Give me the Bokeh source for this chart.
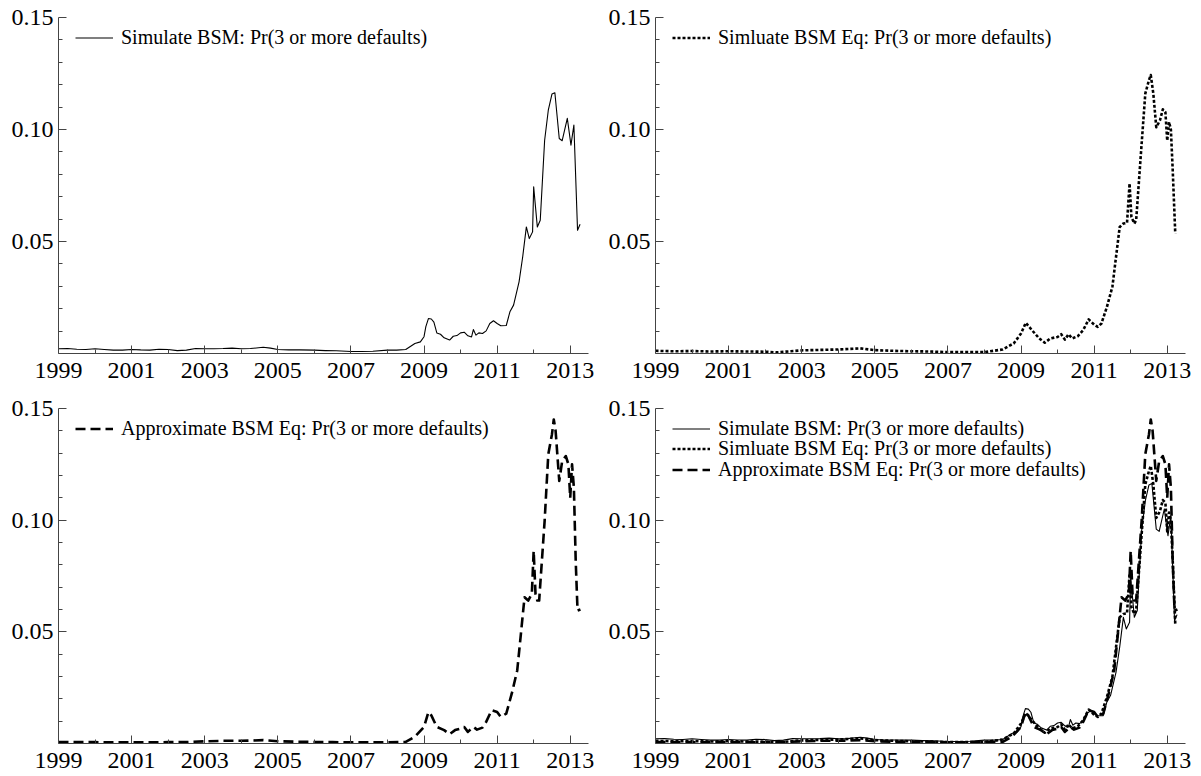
from bokeh.plotting import figure
from bokeh.layouts import column, row
from bokeh.models import Range1d, FixedTicker, PrintfTickFormatter, Legend, LegendItem
from bokeh.embed import file_html
from bokeh.resources import INLINE

# ---------------- data (decimal years, probability) ----------------
sim_dates = [1999.0, 1999.25, 1999.5, 1999.75, 2000.0, 2000.25, 2000.5, 2000.75,
             2001.0, 2001.25, 2001.5, 2001.75, 2002.0, 2002.25, 2002.5, 2002.75,
             2003.0, 2003.25, 2003.5, 2003.75, 2004.0, 2004.25, 2004.6, 2004.8,
             2005.0, 2005.3, 2005.6, 2006.0, 2006.3, 2006.6, 2007.0, 2007.3,
             2007.6, 2008.0, 2008.25, 2008.5, 2008.75, 2008.9, 2009.0, 2009.05,
             2009.12, 2009.2, 2009.27, 2009.35, 2009.45, 2009.55, 2009.7, 2009.8,
             2009.9, 2010.0, 2010.1, 2010.2, 2010.3, 2010.35, 2010.42, 2010.5,
             2010.6, 2010.7, 2010.8, 2010.9, 2011.0, 2011.1, 2011.25, 2011.35,
             2011.45, 2011.6, 2011.7, 2011.8, 2011.88, 2011.97, 2012.0, 2012.1,
             2012.18, 2012.3, 2012.4, 2012.5, 2012.58, 2012.7, 2012.78, 2012.92,
             2013.02, 2013.1, 2013.2, 2013.27]
sim_vals = [0.0021, 0.0022, 0.0019, 0.0018, 0.0021, 0.0018, 0.0015, 0.0015,
            0.0018, 0.0016, 0.0015, 0.0019, 0.0018, 0.0013, 0.0015, 0.0022,
            0.0021, 0.0021, 0.0022, 0.0024, 0.0021, 0.0022, 0.0028, 0.0024,
            0.0018, 0.0016, 0.0016, 0.0015, 0.0013, 0.0012, 0.0009, 0.0009,
            0.0010, 0.0015, 0.0015, 0.0018, 0.0045, 0.0052, 0.0075, 0.0120,
            0.0156, 0.0154, 0.0140, 0.0092, 0.0086, 0.0070, 0.0060, 0.0077,
            0.0080, 0.0092, 0.0095, 0.0079, 0.0074, 0.0107, 0.0082, 0.0092,
            0.0089, 0.0101, 0.0134, 0.0146, 0.0134, 0.0124, 0.0125, 0.0186,
            0.0216, 0.0320, 0.0432, 0.0565, 0.0513, 0.0543, 0.0744, 0.0565,
            0.0595, 0.0952, 0.1086, 0.1158, 0.1164, 0.0960, 0.0950, 0.1050,
            0.0930, 0.1020, 0.0550, 0.0577]

eq_dates = [1999.0, 1999.5, 2000.0, 2000.5, 2001.0, 2001.5, 2002.0, 2002.3,
            2002.7, 2003.0, 2003.5, 2004.0, 2004.6, 2005.0, 2005.5, 2006.0,
            2006.5, 2007.0, 2007.5, 2008.0, 2008.5, 2008.8, 2009.0, 2009.13,
            2009.3, 2009.5, 2009.65, 2009.8, 2010.0, 2010.1, 2010.2, 2010.3,
            2010.4, 2010.55, 2010.7, 2010.85, 2011.0, 2011.1, 2011.2, 2011.35,
            2011.5, 2011.6, 2011.7, 2011.8, 2011.9, 2011.97, 2012.02, 2012.1,
            2012.15, 2012.3, 2012.4, 2012.5, 2012.55, 2012.62, 2012.7, 2012.8,
            2012.88, 2012.95, 2013.0, 2013.05, 2013.1, 2013.15, 2013.22]
eq_vals = [0.0012, 0.0010, 0.0011, 0.0009, 0.0010, 0.0009, 0.0008, 0.0005,
           0.0010, 0.0014, 0.0016, 0.0018, 0.0023, 0.0015, 0.0012, 0.0010,
           0.0009, 0.0006, 0.0006, 0.0006, 0.0018, 0.0045, 0.0089, 0.0137,
           0.0104, 0.0067, 0.0048, 0.0067, 0.0074, 0.0086, 0.0062, 0.0086,
           0.0067, 0.0077, 0.0104, 0.0152, 0.0129, 0.0119, 0.0134, 0.0208,
           0.0298, 0.0432, 0.0565, 0.0580, 0.0583, 0.0759, 0.0610, 0.0580,
           0.0595, 0.0937, 0.1160, 0.1220, 0.1243, 0.1160, 0.1010, 0.1040,
           0.1090, 0.1078, 0.0950, 0.1034, 0.1000, 0.0820, 0.0536]

approx_dates = [1999.0, 1999.5, 2000.0, 2000.5, 2001.0, 2001.5, 2002.0, 2002.5,
                2003.0, 2003.5, 2004.0, 2004.6, 2005.0, 2005.5, 2006.0, 2006.5,
                2007.0, 2007.5, 2008.0, 2008.5, 2008.75, 2009.0, 2009.12, 2009.2,
                2009.35, 2009.55, 2009.7, 2009.85, 2010.0, 2010.1, 2010.2, 2010.35,
                2010.45, 2010.6, 2010.7, 2010.85, 2011.0, 2011.1, 2011.25, 2011.4,
                2011.55, 2011.65, 2011.75, 2011.85, 2011.95, 2012.0, 2012.05, 2012.1,
                2012.15, 2012.3, 2012.4, 2012.5, 2012.55, 2012.6, 2012.7, 2012.78,
                2012.88, 2012.95, 2013.0, 2013.05, 2013.1, 2013.15, 2013.2, 2013.28]
approx_vals = [0.0007, 0.0006, 0.0006, 0.0005, 0.0006, 0.0005, 0.0006, 0.0006,
               0.0010, 0.0012, 0.0012, 0.0015, 0.0010, 0.0008, 0.0007, 0.0006,
               0.0005, 0.0005, 0.0005, 0.0007, 0.0030, 0.0074, 0.0141, 0.0126,
               0.0074, 0.0060, 0.0042, 0.0060, 0.0067, 0.0074, 0.0052, 0.0074,
               0.0062, 0.0071, 0.0097, 0.0149, 0.0141, 0.0119, 0.0134, 0.0223,
               0.0327, 0.0490, 0.0655, 0.0640, 0.0670, 0.0863, 0.0670, 0.0640,
               0.0640, 0.0997, 0.1295, 0.1384, 0.1451, 0.1400, 0.1176, 0.1265,
               0.1287, 0.1250, 0.1100, 0.1250, 0.1146, 0.0818, 0.0595, 0.0600]

labels = ["Simulate BSM: Pr(3 or more defaults)",
          "Simluate BSM Eq: Pr(3 or more defaults)",
          "Approximate BSM Eq: Pr(3 or more defaults)"]

year_ticks = [1999, 2001, 2003, 2005, 2007, 2009, 2011, 2013]
year_minor = [2000, 2002, 2004, 2006, 2008, 2010, 2012]
y_ticks = [0.05, 0.10, 0.15]
y_minor = [0.01, 0.02, 0.03, 0.04, 0.06, 0.07, 0.08, 0.09, 0.11, 0.12, 0.13, 0.14]

FONT = "Liberation Serif"
series = [
    (sim_dates, sim_vals, dict(line_width=1.1, line_dash="solid")),
    (eq_dates, eq_vals, dict(line_width=2.6, line_dash="3 2")),
    (approx_dates, approx_vals, dict(line_width=2.6, line_dash="10 5")),
]
ROW_PITCH = 20.5
ROW_H = 23


def panel(which, fh, left, right, top, bottom):
    p = figure(frame_width=530, frame_height=fh, output_backend="svg",
               toolbar_location=None, title=None,
               x_range=Range1d(1999, 2013.5), y_range=Range1d(0, 0.15),
               min_border_left=left, min_border_right=right,
               min_border_top=top, min_border_bottom=bottom,
               background_fill_color="white", border_fill_color="white")
    p.outline_line_color = None
    p.grid.visible = False
    p.axis.axis_line_color = "#444444"
    p.axis.major_tick_line_color = "#444444"
    p.axis.minor_tick_line_color = "#444444"
    p.axis.major_tick_in = 8
    p.axis.major_tick_out = 0
    p.axis.minor_tick_in = 4
    p.axis.minor_tick_out = 0
    p.axis.major_label_text_font = FONT
    p.axis.major_label_text_font_size = "24px"
    p.axis.major_label_text_color = "black"
    p.yaxis.major_label_standoff = 5
    p.xaxis.major_label_standoff = 9
    p.xaxis.ticker = FixedTicker(ticks=year_ticks, minor_ticks=year_minor)
    p.xaxis.formatter = PrintfTickFormatter(format="%d")
    p.yaxis.ticker = FixedTicker(ticks=y_ticks, minor_ticks=y_minor)
    p.yaxis.formatter = PrintfTickFormatter(format="%.2f")

    for k, i in enumerate(which):
        d, v, st = series[i]
        r = p.line(d, v, line_color="black", line_join="round", **st)
        c = 20 + k * ROW_PITCH
        leg = Legend(items=[LegendItem(label=labels[i], renderers=[r])],
                     location=(17, fh - c - ROW_H / 2),
                     border_line_color=None, background_fill_alpha=0,
                     padding=0, margin=0, spacing=0,
                     glyph_width=38, glyph_height=21, label_height=21,
                     label_standoff=8,
                     label_text_font=FONT, label_text_font_size="20px",
                     label_text_color="black")
        p.add_layout(leg)
    return p


p1 = panel([0], 336, 58, 17, 17, 38)
p2 = panel([1], 336, 50, 14, 17, 38)
p3 = panel([2], 335, 58, 17, 17, 32)
p4 = panel([0, 1, 2], 335, 50, 14, 17, 32)

layout = column(row(p1, p2), row(p3, p4))
open("out.html", "w").write(file_html(layout, INLINE))
